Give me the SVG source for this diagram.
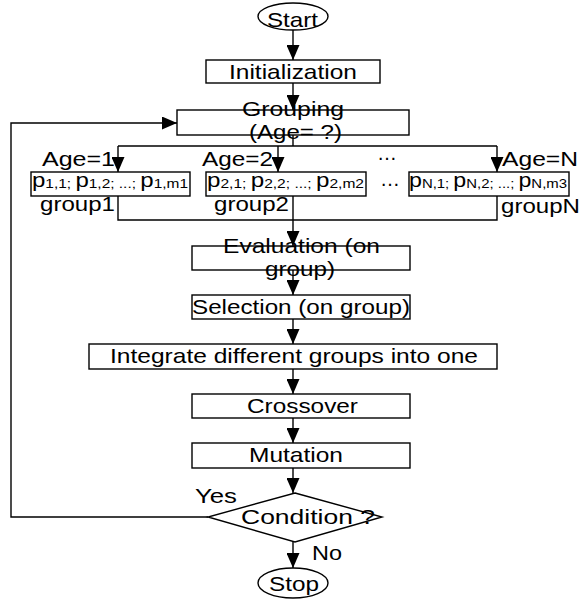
<svg xmlns="http://www.w3.org/2000/svg" width="581" height="601" viewBox="0 0 581 601">
<style>
  .box { fill: #ffffff; stroke: #000000; stroke-width: 1.4; }
  .ln { fill: none; stroke: #000000; stroke-width: 1.4; }
  .arr { fill: none; stroke: #000000; stroke-width: 1.4; marker-end: url(#ah); }
  text { font-family: "Liberation Sans", Arial, sans-serif; font-size: 21px; fill: #000000; }
  .sub { font-size: 13.5px; }
</style>
<defs>
  <marker id="ah" markerWidth="15" markerHeight="13" refX="15" refY="6.5" orient="auto" markerUnits="userSpaceOnUse">
    <path d="M0,0 L15,6.5 L0,13 z" fill="#000000"/>
  </marker>
</defs>
<rect x="0" y="0" width="581" height="601" fill="#ffffff"/>

<g id="connectors">
  <path class="arr" d="M293,30 V60"/>
  <path class="arr" d="M293,83 V110"/>
  <path class="ln" d="M293,135 V146"/>
  <path class="ln" d="M118,146 H497"/>
  <path class="arr" d="M118,146 V172"/>
  <path class="arr" d="M278,146 V172"/>
  <path class="arr" d="M497,146 V172"/>
  <path class="ln" d="M118,196 V220 H497 V196"/>
  <path class="arr" d="M293,196 V246"/>
  <path class="arr" d="M293,270 V295"/>
  <path class="arr" d="M293,319 V344"/>
  <path class="arr" d="M293,369 V394"/>
  <path class="arr" d="M293,418 V443"/>
  <path class="arr" d="M293,468 V493"/>
  <path class="arr" d="M293,542 V568"/>
  <path class="arr" d="M208,517 H11 V123 H177"/>
</g>

<g id="start">
  <ellipse class="box" cx="293" cy="16.5" rx="35" ry="13.5"/>
  <text x="267" y="26.5" textLength="51" lengthAdjust="spacingAndGlyphs">Start</text>
</g>

<g id="init">
  <rect class="box" x="206" y="60" width="174" height="23"/>
  <text x="229" y="78.5" textLength="128" lengthAdjust="spacingAndGlyphs">Initialization</text>
</g>

<g id="grouping">
  <rect class="box" x="177" y="110" width="232" height="25"/>
  <text x="242" y="115.5" textLength="102" lengthAdjust="spacingAndGlyphs">Grouping</text>
  <text x="249" y="138.5" textLength="93" lengthAdjust="spacingAndGlyphs">(Age= ?)</text>
</g>

<g id="labels-age">
  <text x="42" y="165.5" textLength="73" lengthAdjust="spacingAndGlyphs">Age=1</text>
  <text x="202" y="165.5" textLength="71" lengthAdjust="spacingAndGlyphs">Age=2</text>
  <text x="502" y="165.5" textLength="76" lengthAdjust="spacingAndGlyphs">Age=N</text>
  <text x="377" y="160" textLength="20" lengthAdjust="spacingAndGlyphs">…</text>
  <text x="380" y="186" textLength="20" lengthAdjust="spacingAndGlyphs">…</text>
</g>

<g id="group1">
  <rect class="box" x="31" y="172" width="159" height="24"/>
  <text x="32" y="187" textLength="156" lengthAdjust="spacingAndGlyphs">p<tspan class="sub" dy="1">1,1; </tspan><tspan dy="-1">p</tspan><tspan class="sub" dy="1">1,2; ...; </tspan><tspan dy="-1">p</tspan><tspan class="sub" dy="1">1,m1</tspan></text>
  <text x="40" y="210.5" textLength="75" lengthAdjust="spacingAndGlyphs">group1</text>
</g>

<g id="group2">
  <rect class="box" x="206" y="172" width="160" height="24"/>
  <text x="207" y="187" textLength="157" lengthAdjust="spacingAndGlyphs">p<tspan class="sub" dy="1">2,1; </tspan><tspan dy="-1">p</tspan><tspan class="sub" dy="1">2,2; ...; </tspan><tspan dy="-1">p</tspan><tspan class="sub" dy="1">2,m2</tspan></text>
  <text x="214" y="210.5" textLength="75" lengthAdjust="spacingAndGlyphs">group2</text>
</g>

<g id="groupN">
  <rect class="box" x="409" y="172" width="160" height="24"/>
  <text x="409" y="187" textLength="158" lengthAdjust="spacingAndGlyphs">p<tspan class="sub" dy="1">N,1; </tspan><tspan dy="-1">p</tspan><tspan class="sub" dy="1">N,2; ...; </tspan><tspan dy="-1">p</tspan><tspan class="sub" dy="1">N,m3</tspan></text>
  <text x="501" y="212.5" textLength="79" lengthAdjust="spacingAndGlyphs">groupN</text>
</g>

<g id="evaluation">
  <rect class="box" x="192" y="246" width="218" height="24"/>
  <text x="223" y="252.5" textLength="157" lengthAdjust="spacingAndGlyphs">Evaluation (on</text>
  <text x="265" y="275.5" textLength="70" lengthAdjust="spacingAndGlyphs">group)</text>
</g>

<g id="selection">
  <rect class="box" x="192" y="295" width="218" height="24"/>
  <text x="192" y="313.5" textLength="218" lengthAdjust="spacingAndGlyphs">Selection (on group)</text>
</g>

<g id="integrate">
  <rect class="box" x="89" y="344" width="408" height="25"/>
  <text x="110" y="362.5" textLength="368" lengthAdjust="spacingAndGlyphs">Integrate different groups into one</text>
</g>

<g id="crossover">
  <rect class="box" x="192" y="394" width="218" height="24"/>
  <text x="247" y="413" textLength="111" lengthAdjust="spacingAndGlyphs">Crossover</text>
</g>

<g id="mutation">
  <rect class="box" x="192" y="443" width="218" height="25"/>
  <text x="249" y="462" textLength="94" lengthAdjust="spacingAndGlyphs">Mutation</text>
</g>

<g id="condition">
  <polygon class="box" points="295,493 382,517 295,542 208,517"/>
  <text x="241" y="523.5" textLength="134" lengthAdjust="spacingAndGlyphs">Condition ?</text>
  <text x="195" y="502.5" textLength="42" lengthAdjust="spacingAndGlyphs">Yes</text>
  <text x="312" y="559.5" textLength="30" lengthAdjust="spacingAndGlyphs">No</text>
</g>

<g id="stop">
  <ellipse class="box" cx="293" cy="583" rx="35" ry="15"/>
  <text x="269" y="590.5" textLength="50" lengthAdjust="spacingAndGlyphs">Stop</text>
</g>
</svg>
